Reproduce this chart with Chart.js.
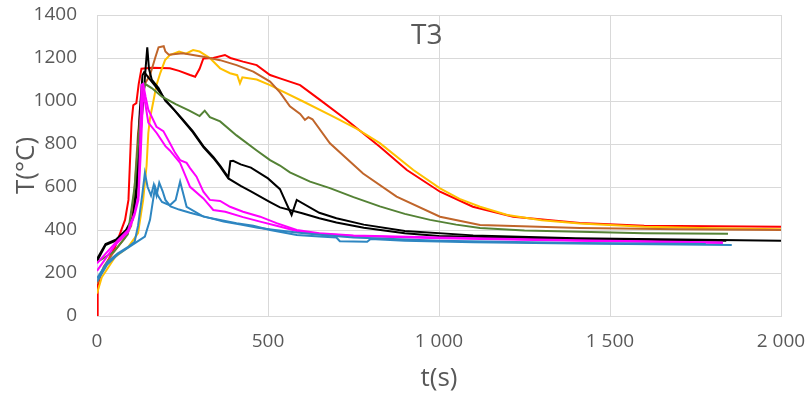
<!DOCTYPE html>
<html>
<head>
<meta charset="utf-8">
<script src="https://cdn.jsdelivr.net/npm/chart.js@4"></script>
<style>
  html, body { margin: 0; padding: 0; background: #fff; }
  #wrap { width: 807px; height: 395px; }
</style>
</head>
<body>
<div id="wrap"><canvas id="chart" width="807" height="395"></canvas></div>
<script>
// Temperature T3 (°C) against time (s): [t, T]
const redData = [[0,0],[2,140],[10,190],[23,229],[53,322],[82,447],[92,540],[101,900],[106,980],[115,990],[122,1080],[130,1150],[160,1155],[213,1152],[240,1140],[272,1121],[287,1113],[300,1150],[311,1198],[340,1200],[374,1214],[390,1200],[427,1183],[467,1167],[506,1121],[535,1105],[594,1074],[652,1005],[730,912],[827,787],[906,679],[1003,578],[1099,508],[1217,462],[1412,432],[1600,420],[2000,415]];
const orangeData = [[0,105],[14,180],[53,275],[91,320],[120,385],[135,540],[145,700],[150,850],[155,920],[165,1000],[174,1075],[185,1130],[199,1190],[213,1214],[240,1230],[260,1220],[281,1237],[300,1230],[330,1200],[360,1152],[389,1129],[410,1120],[418,1082],[425,1110],[467,1100],[506,1074],[535,1051],[600,1000],[691,927],[760,870],[827,804],[925,679],[1003,594],[1060,545],[1120,508],[1200,470],[1300,445],[1412,430],[1600,415],[1800,408],[2000,404]];
const brownData = [[0,150],[20,230],[50,300],[80,360],[100,420],[110,600],[120,850],[130,1000],[140,1080],[155,1120],[170,1200],[180,1250],[195,1255],[200,1230],[210,1215],[251,1222],[311,1206],[360,1190],[408,1167],[457,1137],[506,1090],[535,1040],[564,975],[594,940],[608,912],[618,925],[630,915],[681,803],[778,663],[876,555],[1003,462],[1120,423],[1412,409],[1700,403],[2000,400]];
const greenData = [[0,250],[50,300],[90,380],[110,600],[125,900],[140,1080],[160,1060],[190,1020],[230,985],[270,955],[300,930],[315,955],[330,925],[360,905],[408,840],[467,770],[506,725],[535,700],[564,668],[623,625],[681,595],[750,553],[827,510],[900,475],[974,447],[1050,425],[1120,409],[1250,398],[1412,392],[1600,385],[1845,382]];
const blackAData = [[0,265],[25,335],[55,355],[85,400],[105,460],[115,560],[125,800],[135,1000],[142,1150],[147,1250],[152,1150],[160,1100],[180,1060],[200,1000],[225,960],[250,915],[280,860],[311,790],[340,740],[360,700],[384,645],[390,720],[398,722],[420,705],[450,690],[500,640],[535,590],[569,470],[584,540],[650,480],[700,455],[780,425],[900,395],[1100,375],[1400,362],[2000,350]];
const blackBData = [[0,255],[25,330],[55,350],[85,395],[105,450],[115,600],[125,950],[133,1120],[138,1135],[150,1110],[170,1070],[200,1005],[225,960],[250,912],[280,855],[311,785],[340,735],[360,695],[384,640],[420,605],[450,580],[506,530],[535,505],[600,478],[650,455],[700,435],[780,410],[900,385],[1000,372],[1400,358],[1840,350]];
const magentaAData = [[0,245],[53,339],[91,400],[110,480],[121,560],[126,800],[130,1075],[135,1080],[142,1020],[150,960],[174,880],[194,860],[213,805],[228,760],[243,725],[262,712],[272,688],[291,648],[311,578],[330,540],[360,535],[389,508],[427,485],[477,462],[525,432],[584,400],[650,385],[750,375],[1000,365],[1400,352],[1830,342]];
const magentaBData = [[0,210],[53,330],[91,390],[110,470],[121,540],[128,760],[135,1040],[142,980],[150,900],[175,850],[200,790],[213,770],[243,712],[272,601],[311,547],[340,493],[375,485],[427,460],[477,439],[525,420],[584,395],[650,382],[750,372],[1000,362],[1400,350],[1830,340]];
const blueAData = [[0,175],[30,250],[60,290],[90,320],[110,345],[120,420],[132,560],[140,665],[148,600],[158,560],[166,610],[174,560],[182,620],[192,580],[200,540],[215,510],[240,495],[272,480],[320,460],[370,440],[420,425],[470,410],[520,400],[584,388],[650,378],[750,365],[1000,350],[1400,340],[1780,335]];
const blueBData = [[0,160],[30,240],[60,285],[111,339],[140,369],[155,447],[164,540],[170,600],[178,560],[190,530],[213,515],[230,540],[243,625],[252,570],[262,508],[311,462],[360,447],[408,432],[457,420],[506,400],[584,377],[650,370],[700,365],[710,348],[790,345],[800,358],[900,350],[1100,343],[1400,337],[1856,330]];

const xTickLabels = ['0', '500', '1 000', '1 500', '2 000'];
const yTickLabels = ['0', '200', '400', '600', '800', '1000', '1200', '1400'];

const textColor = '#595959';
const gridColor = '#d9d9d9';

function toPoints(pairs) {
    return pairs.map(p => ({ x: p[0], y: p[1] }));
}

function series(pairs, color) {
    return {
        data: toPoints(pairs),
        borderColor: color,
        borderWidth: 2,
        pointRadius: 0,
        tension: 0,
        fill: false
    };
}

// "T3" label sits inside the plot area
const titleInside = {
    id: 'titleInside',
    beforeDatasetsDraw(chart) {
        const { ctx, chartArea } = chart;
        ctx.save();
        ctx.font = '28px "Open Sans"';
        ctx.fillStyle = textColor;
        ctx.textAlign = 'center';
        ctx.textBaseline = 'middle';
        ctx.fillText('T3', chartArea.left + chartArea.width * 0.482, chartArea.top + 21);
        ctx.restore();
    }
};

new Chart(document.getElementById('chart').getContext('2d'), {
    type: 'line',
    data: {
        datasets: [
            series(blueBData, '#2E86C1'),
            series(blueAData, '#2E86C1'),
            series(magentaBData, '#FF00FF'),
            series(magentaAData, '#FF00FF'),
            series(greenData, '#548235'),
            series(blackBData, '#000000'),
            series(blackAData, '#000000'),
            series(brownData, '#C0652A'),
            series(orangeData, '#FFC000'),
            series(redData, '#FF0000')
        ]
    },
    options: {
        responsive: false,
        animation: false,
        layout: { padding: { left: 0, right: 26, top: 15, bottom: 0 } },
        plugins: {
            legend: { display: false },
            tooltip: { enabled: false }
        },
        scales: {
            x: {
                type: 'linear',
                min: 0,
                max: 2000,
                afterFit(scale) {
                    scale.height = 79;
                    scale.paddingLeft = 0;
                    scale.paddingRight = 0;
                },
                grid: { color: gridColor, drawTicks: false },
                border: { color: gridColor },
                ticks: {
                    stepSize: 500,
                    padding: 14,
                    color: textColor,
                    font: { family: 'Open Sans', size: 19 },
                    maxRotation: 0,
                    callback: (v, i) => xTickLabels[i]
                },
                title: {
                    display: true,
                    text: 't(s)',
                    color: textColor,
                    font: { family: 'Open Sans', size: 26, lineHeight: 1.2 },
                    padding: { top: 0, bottom: 1 }
                }
            },
            y: {
                min: 0,
                max: 1400,
                afterFit(scale) {
                    scale.width = 97;
                    scale.paddingTop = 0;
                    scale.paddingBottom = 0;
                },
                grid: { color: gridColor, drawTicks: false },
                border: { color: gridColor },
                ticks: {
                    stepSize: 200,
                    padding: 20,
                    color: textColor,
                    font: { family: 'Open Sans', size: 19 },
                    callback: (v, i) => yTickLabels[i]
                },
                title: {
                    display: true,
                    text: 'T(°C)',
                    color: textColor,
                    font: { family: 'Open Sans', size: 26, lineHeight: 1.2 },
                    padding: { top: 11, bottom: 0 }
                }
            }
        }
    },
    plugins: [titleInside]
});
</script>
</body>
</html>
